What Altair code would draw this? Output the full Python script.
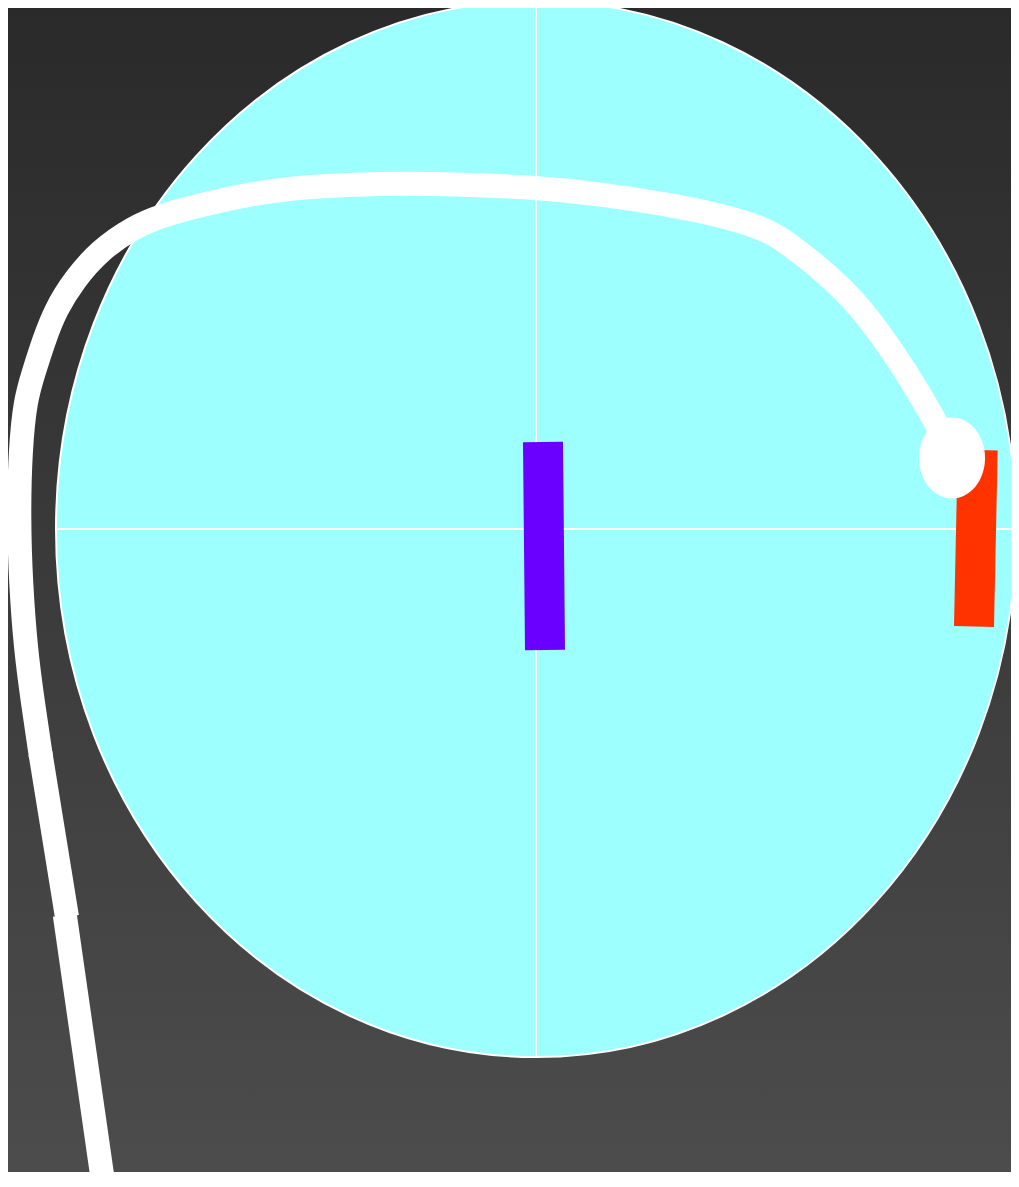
import altair as alt
import pandas as pd

# ---- values (page pixels, y grows downward) ----
lens_x = [536]
lens_y = [529]
lens_rx = 480
lens_ry = 528

cross_x1 = [56, 536]
cross_y1 = [529, 1]
cross_x2 = [1016, 536]
cross_y2 = [529, 1057]

bar_names = ["purple", "red"]
bar_x_top = [543, 977.7]
bar_y_top = [442, 450]
bar_x_bot = [545, 974]
bar_y_bot = [650, 626.5]
bar_colors = ["#6a00ff", "#ff3300"]

knob_x = [952]
knob_y = [458]
knob_rx = 33
knob_ry = 40.5

curve_x = [945, 933, 907, 880, 846.5, 785, 760, 700, 600, 536, 400, 300, 250, 200, 160, 133,
           100, 74, 55.5, 44, 33.5, 25.3, 20.3, 18.7, 20.8, 25.8, 32.5, 41]
curve_y = [440, 417, 373, 333, 290, 240, 226.5, 209.5, 194, 187, 182, 187, 194, 205, 216, 227.5,
           250, 280, 310, 340, 373, 400, 450, 517, 583, 650, 700, 757]

seg_x1 = [40.4, 64.8]
seg_y1 = [753, 915]
seg_x2 = [67, 103.5]
seg_y2 = [917, 1185]

# ---- layout ----
W, H = 1003, 1164
xs = alt.Scale(domain=[8, 8 + W], nice=False, zero=False)
ys = alt.Scale(domain=[8, 8 + H], nice=False, zero=False, reverse=True)

K = 0.5523


def ellipse_path(ratio):
    r = ratio
    return (f"M-1,0C-1,{-K*r:.4f},{-K},{-r:.4f},0,{-r:.4f}"
            f"C{K},{-r:.4f},1,{-K*r:.4f},1,0"
            f"C1,{K*r:.4f},{K},{r:.4f},0,{r:.4f}"
            f"C{-K},{r:.4f},-1,{K*r:.4f},-1,0Z")


bg = alt.Chart(pd.DataFrame({"a": [0]})).mark_rect(
    color=alt.Gradient(
        gradient="linear",
        stops=[alt.GradientStop(color="#2a2a2a", offset=0),
               alt.GradientStop(color="#4c4c4c", offset=1)],
        x1=0, x2=0, y1=0, y2=1,
    )
).encode(x=alt.value(0), x2=alt.value(W), y=alt.value(0), y2=alt.value(H))

lens = alt.Chart(pd.DataFrame({"x": lens_x, "y": lens_y})).mark_point(
    shape=ellipse_path(lens_ry / lens_rx), filled=True, fill="#9effff",
    stroke="white", strokeWidth=2, opacity=1, size=(2 * lens_rx) ** 2,
).encode(x=alt.X("x:Q", scale=xs, axis=None), y=alt.Y("y:Q", scale=ys, axis=None))

cross = alt.Chart(pd.DataFrame({"x": cross_x1, "y": cross_y1, "x2": cross_x2, "y2": cross_y2})).mark_rule(
    color="white", strokeWidth=2
).encode(x=alt.X("x:Q", scale=xs, axis=None), y=alt.Y("y:Q", scale=ys, axis=None), x2="x2:Q", y2="y2:Q")

bars = alt.Chart(pd.DataFrame({"name": bar_names, "x": bar_x_top, "y": bar_y_top,
                               "x2": bar_x_bot, "y2": bar_y_bot})).mark_rule(
    strokeWidth=40, strokeCap="butt"
).encode(
    x=alt.X("x:Q", scale=xs, axis=None), y=alt.Y("y:Q", scale=ys, axis=None), x2="x2:Q", y2="y2:Q",
    color=alt.Color("name:N", scale=alt.Scale(domain=bar_names, range=bar_colors), legend=None),
)

curve = alt.Chart(pd.DataFrame({"x": curve_x, "y": curve_y, "i": list(range(len(curve_x)))})).mark_line(
    color="white", strokeWidth=24, strokeCap="butt", strokeJoin="round", interpolate="basis"
).encode(x=alt.X("x:Q", scale=xs, axis=None), y=alt.Y("y:Q", scale=ys, axis=None), order="i:Q")

segs = alt.Chart(pd.DataFrame({"x": seg_x1, "y": seg_y1, "x2": seg_x2, "y2": seg_y2})).mark_rule(
    color="white", strokeWidth=24, strokeCap="butt"
).encode(x=alt.X("x:Q", scale=xs, axis=None), y=alt.Y("y:Q", scale=ys, axis=None), x2="x2:Q", y2="y2:Q")

knob = alt.Chart(pd.DataFrame({"x": knob_x, "y": knob_y})).mark_point(
    shape=ellipse_path(knob_ry / knob_rx), filled=True, fill="white", opacity=1,
    size=(2 * knob_rx) ** 2, strokeWidth=0,
).encode(x=alt.X("x:Q", scale=xs, axis=None), y=alt.Y("y:Q", scale=ys, axis=None))

chart = alt.layer(bg, lens, cross, bars, curve, segs, knob).properties(
    width=W, height=H, padding=0, background="#3a3a3a",
    autosize=alt.AutoSizeParams(type="none"),
).configure_view(strokeWidth=0)

chart.save("out.html", embed_options={"renderer": "svg", "actions": False})
